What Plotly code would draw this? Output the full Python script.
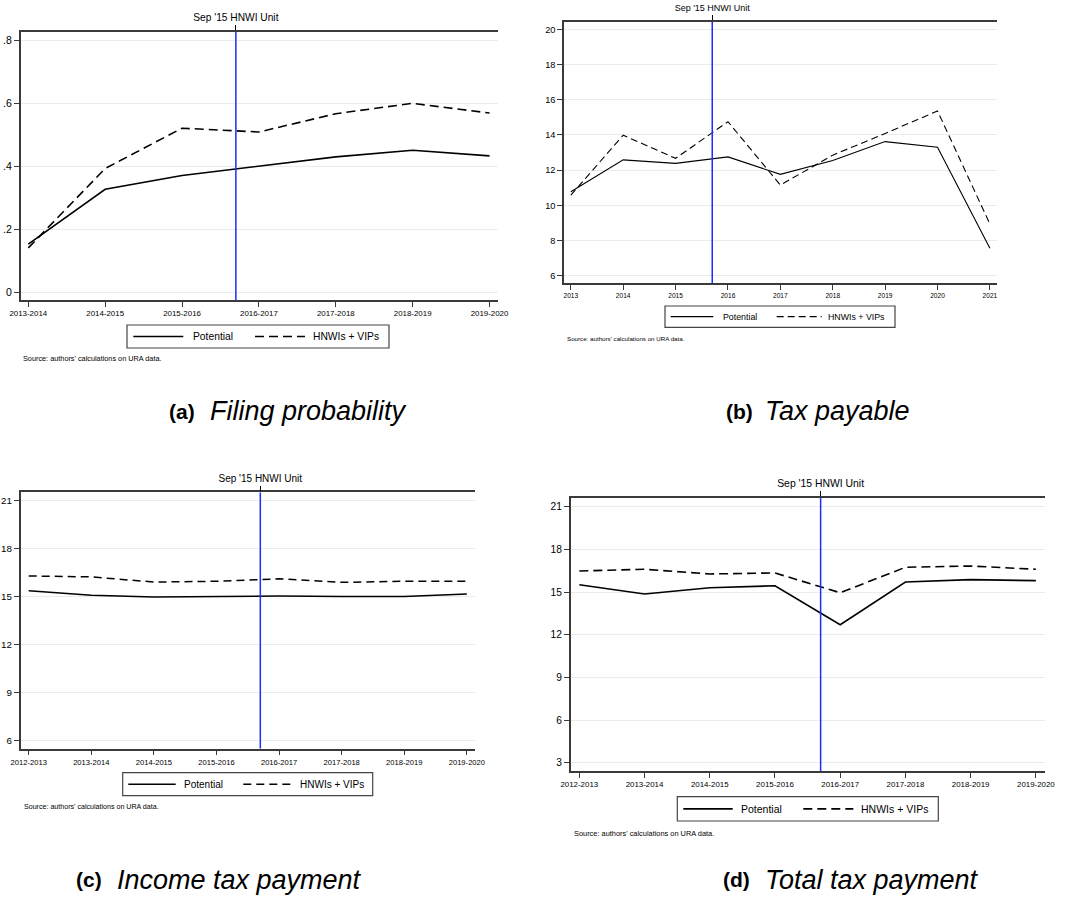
import plotly.graph_objects as go

W, H = 1073, 897
FONT = "Liberation Sans, Arial, Helvetica, sans-serif"

# ---------------- data ----------------
# (a) Filing probability
a_periods = ["2013-2014", "2014-2015", "2015-2016", "2016-2017",
             "2017-2018", "2018-2019", "2019-2020"]
a_potential = [0.152, 0.326, 0.370, 0.400, 0.429, 0.450, 0.432]
a_hnwi = [0.140, 0.392, 0.520, 0.508, 0.566, 0.599, 0.568]
a_yticks = [0, 0.2, 0.4, 0.6, 0.8]
a_yticklabels = ["0", ".2", ".4", ".6", ".8"]
a_event = 2.7

# (b) Tax payable
b_years = [2013, 2014, 2015, 2016, 2017, 2018, 2019, 2020, 2021]
b_potential = [10.77, 12.58, 12.38, 12.75, 11.76, 12.55, 13.62, 13.30, 7.56]
b_hnwi = [10.58, 13.98, 12.67, 14.75, 11.15, 12.85, 14.08, 15.36, 8.94]
b_yticks = [6, 8, 10, 12, 14, 16, 18, 20]
b_event = 2015.7

# (c) Income tax payment
c_periods = ["2012-2013", "2013-2014", "2014-2015", "2015-2016",
             "2016-2017", "2017-2018", "2018-2019", "2019-2020"]
c_potential = [15.35, 15.08, 14.97, 15.00, 15.03, 15.00, 15.00, 15.15]
c_hnwi = [16.28, 16.22, 15.90, 15.95, 16.10, 15.88, 15.95, 15.95]
c_yticks = [6, 9, 12, 15, 18, 21]
c_event = 3.7

# (d) Total tax payment
d_periods = ["2012-2013", "2013-2014", "2014-2015", "2015-2016",
             "2016-2017", "2017-2018", "2018-2019", "2019-2020"]
d_potential = [15.51, 14.86, 15.30, 15.44, 12.70, 15.70, 15.87, 15.80]
d_hnwi = [16.48, 16.60, 16.27, 16.34, 14.95, 16.74, 16.83, 16.60]
d_yticks = [3, 6, 9, 12, 15, 18, 21]
d_event = 3.7

event_label = "Sep '15 HNWI Unit"
series_names = ["Potential", "HNWIs + VIPs"]
source_note = "Source: authors' calculations on URA data."

# ---------------- panel layout (pixel boxes) ----------------
# legend: box (l, t, r, b), solid sample (x0, x1), label x, dashed sample (x0, x1), label x
panels = [
    dict(x=list(range(len(a_periods))), ticktext=a_periods, pot=a_potential, hn=a_hnwi,
         yticks=a_yticks, yticktext=a_yticklabels, event=a_event,
         box=(20.7, 498, 32, 300), xr=(-0.099, 6.11), yr=(-0.0254, 0.8254),
         lw=1.6, dash="9px,5px", xfs=7.9, yfs=10.5, tfs=10.2, lfs=10.3, sfs=7.3,
         legend=dict(box=(127, 325, 389, 348), s=(133.3, 183.3), t1=191.7,
                     d=(255, 305), t2=311.7),
         source=(22, 358),
         caption=("(a)", "Filing probability", 168.3, 209, 411.5)),
    dict(x=b_years, ticktext=[str(v) for v in b_years], pot=b_potential, hn=b_hnwi,
         yticks=b_yticks, yticktext=[str(v) for v in b_yticks], event=b_event,
         box=(564, 996.7, 21.7, 283.3), xr=(2012.87, 2021.13), yr=(5.57, 20.43),
         lw=1.1, dash="7px,4px", xfs=6.6, yfs=9.2, tfs=9, lfs=8.8, sfs=6.2,
         legend=dict(box=(665, 306, 895, 327.3), s=(670.7, 713.3), t1=721.7,
                     d=(776.7, 821.7), t2=826.7),
         source=(565.7, 338),
         caption=("(b)", "Tax payable", 725, 764, 411.5)),
    dict(x=list(range(len(c_periods))), ticktext=c_periods, pot=c_potential, hn=c_hnwi,
         yticks=c_yticks, yticktext=[str(v) for v in c_yticks], event=c_event,
         box=(20.7, 475, 492.3, 748.7), xr=(-0.128, 7.13), yr=(5.5, 21.5),
         lw=1.5, dash="8px,5px", xfs=7.6, yfs=9.8, tfs=10, lfs=10, sfs=7.1,
         legend=dict(box=(122.7, 772.7, 372.7, 795.7), s=(128.3, 175.7), t1=183.3,
                     d=(243.3, 292.3), t2=299),
         source=(22.7, 807),
         caption=("(c)", "Income tax payment", 75, 115.5, 879.5)),
    dict(x=list(range(len(d_periods))), ticktext=d_periods, pot=d_potential, hn=d_hnwi,
         yticks=d_yticks, yticktext=[str(v) for v in d_yticks], event=d_event,
         box=(570.7, 1045, 497.7, 771), xr=(-0.132, 7.14), yr=(2.42, 21.63),
         lw=1.6, dash="9px,5px", xfs=7.9, yfs=10.2, tfs=10.4, lfs=10.5, sfs=7.4,
         legend=dict(box=(677.3, 796.7, 938.3, 821), s=(683.3, 732.7), t1=740,
                     d=(803.3, 853.3), t2=860),
         source=(573.3, 833),
         caption=("(d)", "Total tax payment", 721.7, 764, 879.5)),
]

fig = go.Figure()
annotations, shapes = [], []
layout = dict(
    width=W, height=H, margin=dict(l=0, r=0, t=0, b=0, autoexpand=False),
    paper_bgcolor="white", plot_bgcolor="white",
    font=dict(family=FONT, color="black"), showlegend=False,
)

AXIS_COLOR = "#3a3a3a"


def px(x):
    return x / W


def py(y):
    return 1 - y / H


for i, p in enumerate(panels, start=1):
    xb, xt = f"x{i}", f"x{i + 4}"
    yb = f"y{i}"
    l, r, t, b = p["box"]

    common = dict(automargin=False, zeroline=False, ticks="outside", ticklen=5,
                  tickwidth=1, showline=True, linecolor=AXIS_COLOR, linewidth=1.5)
    # bottom category axis
    layout[f"xaxis{i}"] = dict(
        domain=[px(l), px(r)], anchor=yb, range=list(p["xr"]),
        tickmode="array", tickvals=p["x"], ticktext=p["ticktext"],
        tickcolor=AXIS_COLOR, showgrid=False,
        tickfont=dict(size=p["xfs"], family=FONT, color="black"), **common)
    # top axis carrying the event marker label
    layout[f"xaxis{i + 4}"] = dict(
        overlaying=xb, anchor=yb, side="top", range=list(p["xr"]),
        tickmode="array", tickvals=[p["event"]], ticktext=[event_label],
        tickcolor="black", showgrid=False,
        tickfont=dict(size=p["tfs"], family=FONT, color="black"), **common)
    layout[f"yaxis{i}"] = dict(
        domain=[py(b), py(t)], anchor=xb, range=list(p["yr"]),
        tickmode="array", tickvals=p["yticks"], ticktext=p["yticktext"],
        tickcolor=AXIS_COLOR, showgrid=True, gridcolor="#ebebeb", gridwidth=1,
        tickfont=dict(size=p["yfs"], family=FONT, color="black"), **common)

    # series
    fig.add_trace(go.Scatter(
        x=p["x"], y=p["pot"], mode="lines", name=series_names[0],
        line=dict(color="black", width=p["lw"]),
        xaxis=xb, yaxis=yb, hoverinfo="skip"))
    fig.add_trace(go.Scatter(
        x=p["x"], y=p["hn"], mode="lines", name=series_names[1],
        line=dict(color="black", width=p["lw"], dash=p["dash"]),
        xaxis=xb, yaxis=yb, hoverinfo="skip"))

    # vertical event line on the top axis
    fig.add_trace(go.Scatter(
        x=[p["event"], p["event"]], y=list(p["yr"]), mode="lines",
        line=dict(color="#1f2bff", width=1.5),
        xaxis=xt, yaxis=yb, hoverinfo="skip"))

    # legend box in the Stata style
    lg = p["legend"]
    bl, bt, br, bb = lg["box"]
    cy = (bt + bb) / 2
    shapes.append(dict(type="rect", xref="paper", yref="paper",
                       x0=px(bl), x1=px(br), y0=py(bb), y1=py(bt),
                       line=dict(color="#444", width=1.2), fillcolor="white"))
    shapes.append(dict(type="line", xref="paper", yref="paper",
                       x0=px(lg["s"][0]), x1=px(lg["s"][1]), y0=py(cy), y1=py(cy),
                       line=dict(color="black", width=p["lw"])))
    shapes.append(dict(type="line", xref="paper", yref="paper",
                       x0=px(lg["d"][0]), x1=px(lg["d"][1]), y0=py(cy), y1=py(cy),
                       line=dict(color="black", width=p["lw"], dash=p["dash"])))
    for name, tx in zip(series_names, (lg["t1"], lg["t2"])):
        annotations.append(dict(
            text=name, x=px(tx), y=py(cy), xref="paper", yref="paper",
            xanchor="left", yanchor="middle", showarrow=False, borderpad=0,
            font=dict(size=p["lfs"], family=FONT, color="black")))

    sx, sy = p["source"]
    annotations.append(dict(
        text=source_note, x=px(sx), y=py(sy), xref="paper", yref="paper",
        xanchor="left", yanchor="middle", showarrow=False, borderpad=0,
        font=dict(size=p["sfs"], family=FONT, color="black")))

    tag, title, tagx, titlex, capy = p["caption"]
    annotations.append(dict(
        text=f"<b>{tag}</b>", x=px(tagx), y=py(capy), xref="paper", yref="paper",
        xanchor="left", yanchor="middle", showarrow=False, borderpad=0,
        font=dict(size=21, family=FONT, color="black")))
    annotations.append(dict(
        text=f"<i>{title}</i>", x=px(titlex), y=py(capy), xref="paper", yref="paper",
        xanchor="left", yanchor="middle", showarrow=False, borderpad=0,
        font=dict(size=27, family=FONT, color="black")))

layout["annotations"] = annotations
layout["shapes"] = shapes
fig.update_layout(**layout)
fig.write_html("out.html")
